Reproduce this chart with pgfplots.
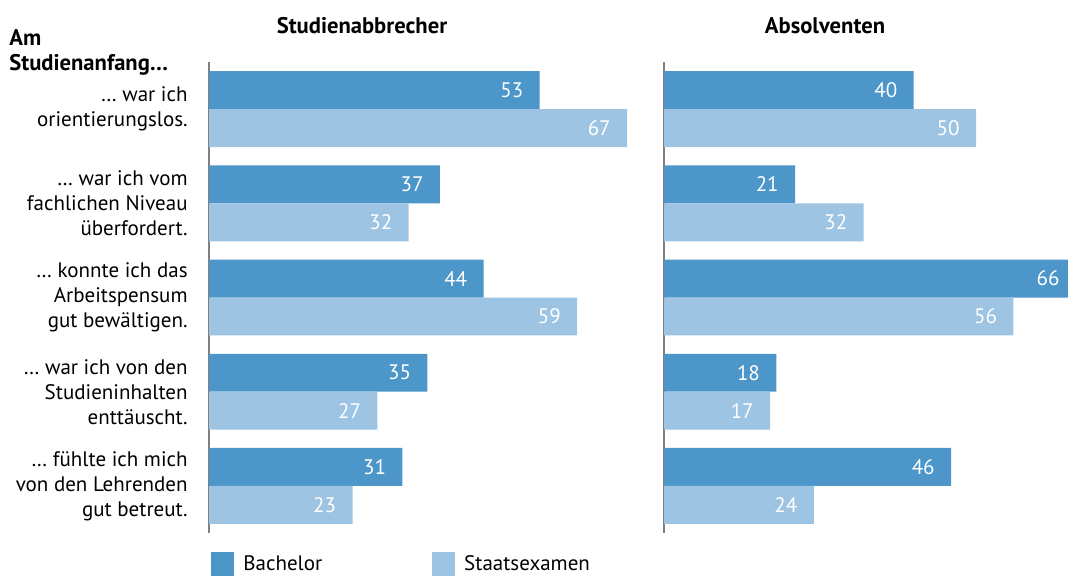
\documentclass[border=0pt]{standalone}
\usepackage{fontspec}
\setmainfont{PT Sans}
\usepackage{pgfplots}
\pgfplotsset{compat=1.18}
\definecolor{dark}{RGB}{76,150,201}
\definecolor{light}{RGB}{157,196,226}
\definecolor{axgray}{RGB}{128,128,128}
\newcommand\myfont{\fontsize{10.5}{12.5}\selectfont}
\newcommand\boldfont{\fontsize{11.3}{13.5}\selectfont\bfseries}
\pgfplotsset{
  mybar/.style={
    xbar, scale only axis, width=218.4pt, height=235.5pt,
    xmin=0, xmax=70, ymin=0.5, ymax=5.5, y dir=reverse,
    bar width=0.403, hide x axis, axis y line*=left,
    axis line style={-, draw=axgray, line width=0.8pt},
    major tick length=0pt, clip=false,
    /pgf/number format/assume math mode=true,
    nodes near coords,
    every node near coord/.append style={anchor=east, xshift=-8pt, inner sep=0pt, text=white, font=\myfont},
  },
}
\begin{document}
\myfont
\begin{tikzpicture}
\useasboundingbox (0,0) rectangle (534pt,287.5pt);
\clip (0,0) rectangle (534pt,287.5pt);
\node[anchor=base, font=\boldfont] at (181pt,271pt) {Studienabbrecher};
\node[anchor=base, font=\boldfont] at (412.5pt,271pt) {Absolventen};
\node[anchor=base west, inner sep=0pt, font=\boldfont] at (4.5pt,265pt) {Am};
\node[anchor=base west, inner sep=0pt, font=\boldfont] at (4.5pt,252.5pt) {Studienanfang…};

\begin{axis}[mybar, at={(104.5pt,21pt)}, anchor=south west,
  ytick={1,2,3,4,5},
  yticklabels={{… war ich\\orientierungslos.},{… war ich vom\\fachlichen Niveau\\überfordert.},{… konnte ich das\\Arbeitspensum\\gut bewältigen.},{… war ich von den\\Studieninhalten\\enttäuscht.},{… fühlte ich mich\\von den Lehrenden\\gut betreut.}},
  yticklabel style={align=right, inner sep=0pt, xshift=-10.5pt, font=\myfont},
  legend style={at={(0,0)}, anchor=north west, xshift=-2pt, yshift=-7pt, draw=none, fill=none, font=\myfont, legend columns=2,
    /tikz/every even column/.append style={column sep=53pt}},
  legend cell align=left,
  legend image code/.code={\fill[#1] (0pt,-6pt) rectangle (11.5pt,6pt);},
]
\addplot[fill=dark, draw=none, bar shift=0pt] coordinates {(53,0.7985) (37,1.7985) (44,2.7985) (35,3.7985) (31,4.7985)};
\addplot[fill=light, draw=none, bar shift=0pt] coordinates {(67,1.2015) (32,2.2015) (59,3.2015) (27,4.2015) (23,5.2015)};
\addlegendentry{\hspace*{2.5pt}Bachelor}
\addlegendentry{\hspace*{2.5pt}Staatsexamen}
\end{axis}

\begin{axis}[mybar, at={(332pt,21pt)}, anchor=south west, ytick=\empty]
\addplot[fill=dark, draw=none, bar shift=0pt] coordinates {(40,0.7985) (21,1.7985) (66,2.7985) (18,3.7985) (46,4.7985)};
\addplot[fill=light, draw=none, bar shift=0pt] coordinates {(50,1.2015) (32,2.2015) (56,3.2015) (17,4.2015) (24,5.2015)};
\end{axis}
\end{tikzpicture}
\end{document}
